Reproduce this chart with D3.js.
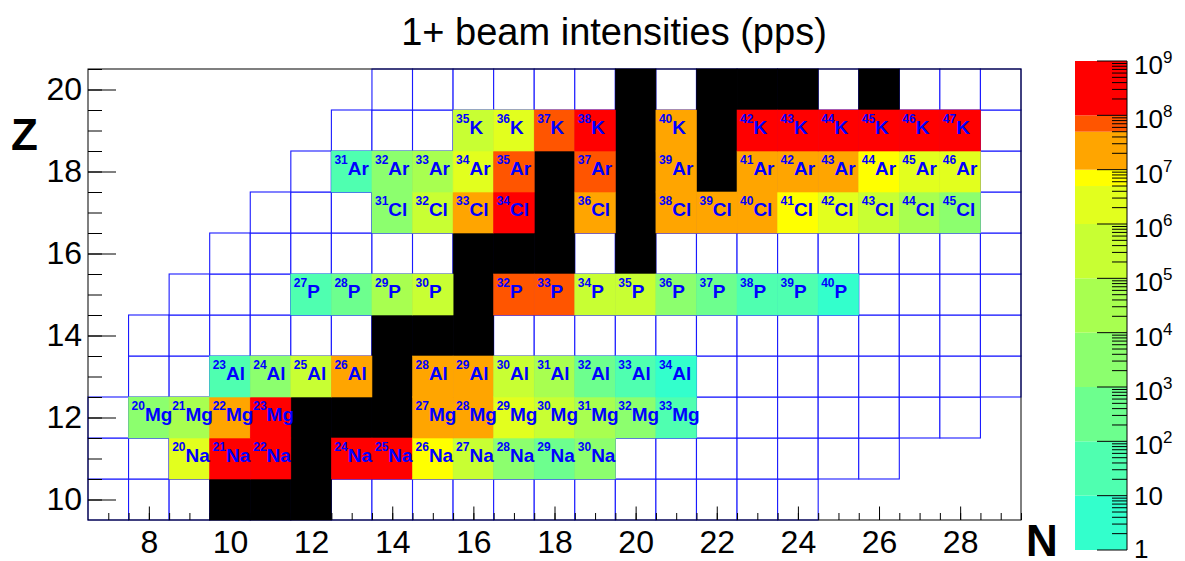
<!DOCTYPE html>
<html>
<head>
<meta charset="utf-8">
<script src="https://cdn.jsdelivr.net/npm/d3@7"></script>
<style>
  body { margin: 0; background: #fff; }
  text { font-family: "Liberation Sans", Arial, Helvetica, sans-serif; }
</style>
</head>
<body>
<script>
const width = 1185;
const height = 561;

// rows of the chart: Z, symbol, first and last N drawn
const zValues = [10, 11, 12, 13, 14, 15, 16, 17, 18, 19, 20];
const symbols = ['Ne', 'Na', 'Mg', 'Al', 'Si', 'P', 'S', 'Cl', 'Ar', 'K', 'Ca'];
const nFirst = [7, 7, 7, 8, 8, 9, 10, 11, 12, 13, 14];
const nLast = [24, 26, 28, 29, 29, 29, 29, 29, 29, 29, 29];

// stable nuclei [N, Z] (black)
const stable = [
    [10, 10], [11, 10], [12, 10],
    [12, 11],
    [12, 12], [13, 12], [14, 12],
    [14, 13],
    [14, 14], [15, 14], [16, 14],
    [16, 15],
    [16, 16], [17, 16], [18, 16], [20, 16],
    [18, 17], [20, 17],
    [18, 18], [20, 18], [22, 18],
    [20, 19], [22, 19],
    [20, 20], [22, 20], [23, 20], [24, 20], [26, 20]
];

// beam intensities [A, pps]
const naBeams = [[20, 2e6], [21, 3e8], [22, 3e8], [24, 3e8], [25, 3e8], [26, 7e6], [27, 5e5], [28, 5e3], [29, 5e2], [30, 5e3]];
const mgBeams = [[20, 5e3], [21, 5e4], [22, 2e7], [23, 3e8], [27, 2e7], [28, 2e7], [29, 2e6], [30, 5e5], [31, 5e4], [32, 5e3], [33, 50]];
const alBeams = [[23, 50], [24, 5e3], [25, 5e5], [26, 2e7], [28, 2e7], [29, 2e7], [30, 5e5], [31, 5e4], [32, 5e2], [33, 50], [34, 5]];
const pBeams = [[27, 50], [28, 5e2], [29, 5e4], [30, 5e5], [32, 7e7], [33, 7e7], [34, 5e5], [35, 5e5], [36, 5e3], [37, 5e2], [38, 50], [39, 50], [40, 5]];
const clBeams = [[31, 5e3], [32, 5e5], [33, 2e7], [34, 3e8], [36, 2e7], [38, 2e7], [39, 2e7], [40, 2e7], [41, 7e6], [42, 2e6], [43, 5e5], [44, 5e4], [45, 5e3]];
const arBeams = [[31, 50], [32, 5e3], [33, 5e4], [34, 2e6], [35, 7e7], [37, 7e7], [39, 2e7], [41, 2e7], [42, 2e7], [43, 2e7], [44, 7e6], [45, 2e6], [46, 2e6]];
const kBeams = [[35, 5e5], [36, 2e6], [37, 7e7], [38, 3e8], [40, 2e7], [42, 3e8], [43, 3e8], [44, 3e8], [45, 3e8], [46, 3e8], [47, 3e8]];

// colour levels of the palette
const levels = [1, 10, 100, 1e3, 1e4, 1e5, 1e6, 5e6, 1e7, 5e7, 1e8, 1e9];
const levelColors = ['#33ffcc', '#4fffb0', '#6dff8e', '#8cff6e', '#a8ff50', '#c8ff33', '#e2ff1e', '#ffff00', '#ffa500', '#ff5500', '#ff0000'];

const xTicks = d3.range(8, 29, 2);
const yTicks = d3.range(10, 21, 2);

const beams = [];
[[11, naBeams], [12, mgBeams], [13, alBeams], [15, pBeams], [17, clBeams], [18, arBeams], [19, kBeams]]
    .forEach(([z, list]) => {
        const sym = symbols[zValues.indexOf(z)];
        list.forEach(([a, pps]) => beams.push({ z, n: a - z, a, sym, pps }));
    });

const cells = [];
zValues.forEach((z, i) => {
    for (let n = nFirst[i]; n <= nLast[i]; n++) cells.push({ n, z });
});

const x = d3.scaleLinear().domain([6.5, 29.5]).range([88, 1021]);
const y = d3.scaleLinear().domain([9.5, 20.5]).range([520, 69]);
const color = d3.scaleThreshold().domain(levels.slice(1, -1)).range(levelColors);

const svg = d3.select('body').append('svg')
    .attr('width', width)
    .attr('height', height);

const cellX = d => x(d.n - 0.5);
const cellY = d => y(d.z + 0.5);
const cellW = d => x(d.n + 0.5) - x(d.n - 0.5);
const cellH = d => y(d.z - 0.5) - y(d.z + 0.5);

// empty grid
svg.append('g').selectAll('rect')
    .data(cells)
    .enter()
    .append('rect')
    .attr('x', cellX).attr('y', cellY).attr('width', cellW).attr('height', cellH)
    .attr('fill', '#fff')
    .attr('stroke', '#1a1aff')
    .attr('stroke-width', 1.1);

// stable nuclei
svg.append('g').selectAll('rect')
    .data(stable.map(([n, z]) => ({ n, z })))
    .enter()
    .append('rect')
    .attr('x', cellX).attr('y', cellY).attr('width', cellW).attr('height', cellH)
    .attr('fill', '#000')
    .attr('stroke', '#000')
    .attr('stroke-width', 0.6);

// beams
svg.append('g').selectAll('rect')
    .data(beams)
    .enter()
    .append('rect')
    .attr('x', cellX).attr('y', cellY).attr('width', cellW).attr('height', cellH)
    .attr('fill', d => color(d.pps))
    .attr('stroke', d => color(d.pps))
    .attr('stroke-width', 0.6);

const labels = svg.append('g').selectAll('text')
    .data(beams)
    .enter()
    .append('text')
    .attr('x', d => x(d.n - 0.5) + 3)
    .attr('y', d => y(d.z) + 3)
    .attr('fill', '#0000ff')
    .attr('font-weight', 'bold');
labels.append('tspan')
    .attr('font-size', 12)
    .attr('dy', -11)
    .text(d => d.a);
labels.append('tspan')
    .attr('font-size', 19)
    .attr('dy', 11)
    .text(d => d.sym);

// frame
svg.append('rect')
    .attr('x', x(6.5)).attr('y', y(20.5))
    .attr('width', x(29.5) - x(6.5)).attr('height', y(9.5) - y(20.5))
    .attr('fill', 'none')
    .attr('stroke', '#000');

// axes, ticks inside the frame
svg.append('g')
    .attr('transform', `translate(${x(6.5)},0)`)
    .call(d3.axisLeft(y).tickValues(yTicks).tickSize(-28).tickPadding(6));
svg.append('g')
    .attr('transform', `translate(${x(6.5)},0)`)
    .call(d3.axisLeft(y).tickValues(d3.range(10, 20.6, 0.5)).tickSize(-14).tickFormat(''));
svg.append('g')
    .attr('transform', `translate(0,${y(9.5)})`)
    .call(d3.axisBottom(x).tickValues(xTicks).tickSize(-13.5).tickPadding(10));
svg.append('g')
    .attr('transform', `translate(0,${y(9.5)})`)
    .call(d3.axisBottom(x).tickValues(d3.range(7, 29.6, 0.5)).tickSize(-7).tickFormat(''));
svg.selectAll('.domain').remove();
svg.selectAll('.tick line').attr('stroke', '#000');
svg.selectAll('.tick text')
    .attr('font-size', 32)
    .attr('font-family', '"Liberation Sans", Arial, sans-serif')
    .attr('fill', '#000');

// title and axis titles
svg.append('text')
    .attr('x', 614).attr('y', 45)
    .attr('text-anchor', 'middle')
    .attr('font-size', 38)
    .text('1+ beam intensities (pps)');
svg.append('text')
    .attr('x', 11).attr('y', 150)
    .attr('font-size', 44).attr('font-weight', 'bold')
    .text('Z');
svg.append('text')
    .attr('x', 1026).attr('y', 556)
    .attr('font-size', 44).attr('font-weight', 'bold')
    .text('N');

// colour bar
const cb = d3.scaleLog().domain([1, 1e9]).range([550, 61]);
const barX = 1075;
const barW = 52;
svg.append('g').selectAll('rect')
    .data(levelColors)
    .enter()
    .append('rect')
    .attr('x', barX)
    .attr('y', (d, i) => cb(levels[i + 1]))
    .attr('width', barW)
    .attr('height', (d, i) => cb(levels[i]) - cb(levels[i + 1]))
    .attr('fill', d => d);

const decades = d3.range(0, 10);
const minor = [];
decades.slice(0, 9).forEach(k => { for (let m = 2; m <= 9; m++) minor.push(m * Math.pow(10, k)); });

const cbAxis = svg.append('g').attr('transform', `translate(${barX + barW},0)`);
cbAxis.append('line')
    .attr('y1', cb(1)).attr('y2', cb(1e9))
    .attr('stroke', '#000');
cbAxis.selectAll('line.major')
    .data(decades)
    .enter()
    .append('line')
    .attr('class', 'major')
    .attr('x1', -30).attr('x2', 0)
    .attr('y1', k => cb(Math.pow(10, k))).attr('y2', k => cb(Math.pow(10, k)))
    .attr('stroke', '#000');
cbAxis.selectAll('line.minor')
    .data(minor)
    .enter()
    .append('line')
    .attr('class', 'minor')
    .attr('x1', -15).attr('x2', 0)
    .attr('y1', v => cb(v)).attr('y2', v => cb(v))
    .attr('stroke', '#000');

const cbLabels = cbAxis.selectAll('text')
    .data(decades)
    .enter()
    .append('text')
    .attr('x', 7)
    .attr('y', k => k === 0 ? cb(1) + 8 : cb(Math.pow(10, k)) + (k < 2 ? 9 : 13))
    .attr('font-size', 26);
cbLabels.append('tspan').text(k => k === 0 ? '1' : '10');
cbLabels.filter(k => k >= 2).append('tspan')
    .attr('font-size', 17)
    .attr('dy', -11)
    .text(k => k);
</script>
</body>
</html>
